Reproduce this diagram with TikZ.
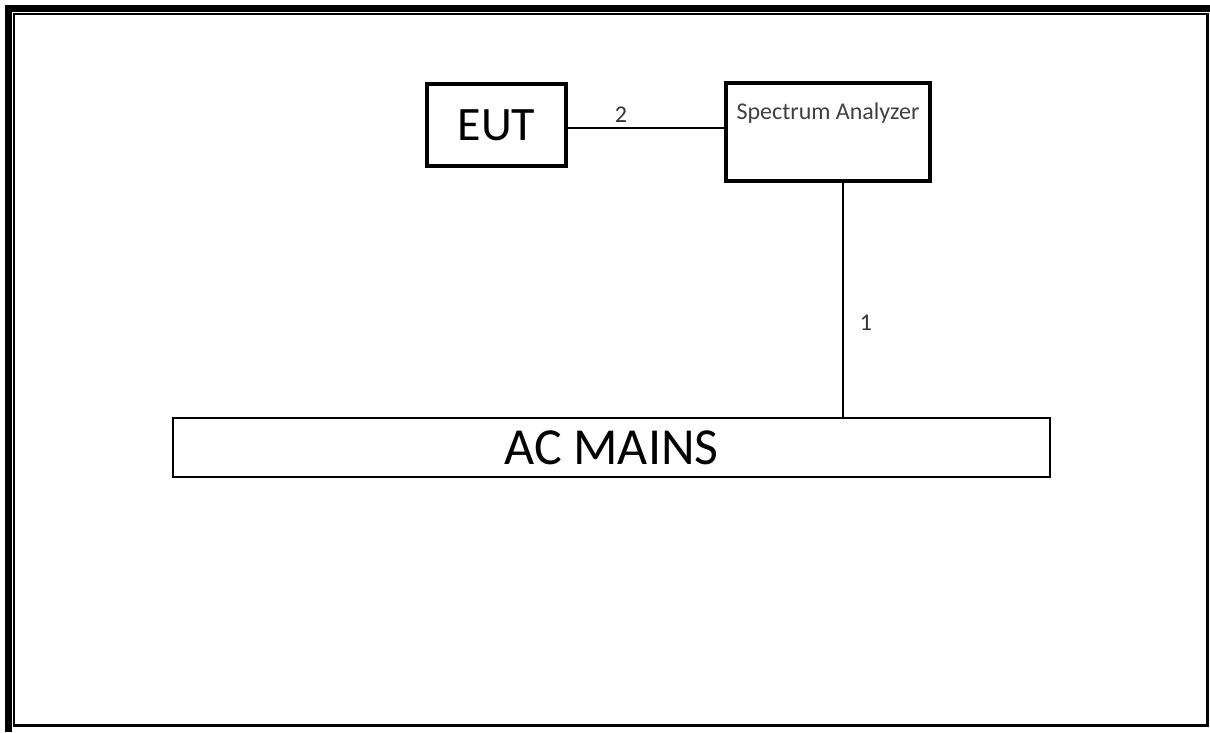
\documentclass[tikz,border=0pt]{standalone}
\usepackage{fontspec}
\setmainfont{Carlito}
\usetikzlibrary{positioning}

\tikzset{
  unitbox/.style={draw=black, line width=4pt, inner sep=0pt},
  mainsbox/.style={draw=black, line width=1.3pt, inner sep=0pt, minimum width=877pt, minimum height=59pt},
  wire/.style={draw=black, line width=1.4pt},
  wirelabel/.style={font=\fontsize{24}{26}\selectfont, text=black!80, inner sep=0pt}
}

\begin{document}
\begin{tikzpicture}[x=1pt,y=-1pt]
  \useasboundingbox (0,0) rectangle (1210,732);
  % page frame
  \draw[line width=7pt] (8.5,732) -- (8.5,8.5) -- (1210,8.5);
  \draw[line width=2.5pt] (14,14) rectangle (1207.5,725.5);
  % units
  \node[unitbox, minimum width=139pt, minimum height=82pt, font=\fontsize{48}{50}\selectfont] (eut) at (496.5,125) {EUT};
  \node[unitbox, minimum width=204pt, minimum height=98pt] (sa) at (828,132) {};
  \node[font=\fontsize{24}{26}\selectfont, text=black!75, inner sep=0pt, anchor=north] (satext) at (828,103) {Spectrum Analyzer};
  \node[mainsbox, font=\fontsize{52}{54}\selectfont] (mains) at (611.5,447.5) {AC MAINS};
  % connections
  \coordinate (saleft) at (sa.west |- 0,128);
  \coordinate (satap) at (843,181);
  \coordinate (maintap) at (843,418);
  \draw[wire] (eut.east |- saleft) -- (saleft);
  \draw[wire] (satap) -- (maintap);
  \node[wirelabel] (cab2) at (621,115) {2};
  \node[wirelabel] (cab1) at (866,323) {1};
\end{tikzpicture}
\end{document}
